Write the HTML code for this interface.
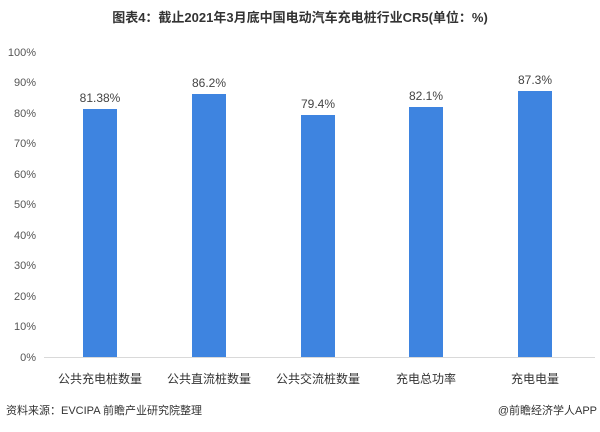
<!DOCTYPE html>
<html><head><meta charset="utf-8"><style>
body{margin:0;background:#fff;}
svg text{font-family:"Liberation Sans","Noto Sans CJK SC",sans-serif;}
</style></head><body>
<svg width="600" height="427" xmlns="http://www.w3.org/2000/svg">
<text x="300" y="22" text-anchor="middle" font-size="13" font-weight="bold" fill="#333">图表4：截止2021年3月底中国电动汽车充电桩行业CR5(单位：%)</text>
<g font-size="11" fill="#555" text-anchor="end">
<text x="36" y="361">0%</text>
<text x="36" y="330">10%</text>
<text x="36" y="300">20%</text>
<text x="36" y="269">30%</text>
<text x="36" y="239">40%</text>
<text x="36" y="208">50%</text>
<text x="36" y="178">60%</text>
<text x="36" y="147">70%</text>
<text x="36" y="117">80%</text>
<text x="36" y="86">90%</text>
<text x="36" y="56">100%</text>
</g>
<line x1="44" y1="357.5" x2="595" y2="357.5" stroke="#d9d9d9"/>
<g fill="#3e84e0">
<rect x="83" y="109" width="34" height="248"/>
<rect x="192" y="94" width="34" height="263"/>
<rect x="301" y="115" width="34" height="242"/>
<rect x="409" y="107" width="34" height="250"/>
<rect x="518" y="91" width="34" height="266"/>
</g>
<g font-size="12" fill="#444" text-anchor="middle">
<text x="100" y="102">81.38%</text>
<text x="209" y="87">86.2%</text>
<text x="318" y="108">79.4%</text>
<text x="426" y="100">82.1%</text>
<text x="535" y="84">87.3%</text>
</g>
<g font-size="12" fill="#333" text-anchor="middle">
<text x="100" y="383">公共充电桩数量</text>
<text x="209" y="383">公共直流桩数量</text>
<text x="318" y="383">公共交流桩数量</text>
<text x="426" y="383">充电总功率</text>
<text x="535" y="383">充电电量</text>
</g>
<text x="6" y="414" font-size="11" fill="#333">资料来源：EVCIPA 前瞻产业研究院整理</text>
<text x="597" y="414" font-size="11" fill="#333" text-anchor="end">@前瞻经济学人APP</text>
</svg>
</body></html>
